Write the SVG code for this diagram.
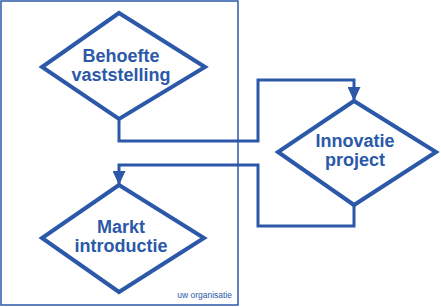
<svg xmlns="http://www.w3.org/2000/svg" width="441" height="307" viewBox="0 0 441 307">
<style>
.d{fill:#fff;stroke:#2B58A8;stroke-width:4;stroke-linejoin:miter}
.c{fill:none;stroke:#2B58A8;stroke-width:3}
.t{font-family:"Liberation Sans",Arial,sans-serif;font-weight:bold;font-size:18px;fill:#2B58A8;text-anchor:middle}
.s{font-family:"Liberation Sans",Arial,sans-serif;font-size:8.5px;fill:#2B58A8;text-anchor:end}
</style>
<defs>
<marker id="a2" markerUnits="userSpaceOnUse" markerWidth="14" markerHeight="13" refX="14" refY="6.5" orient="auto" viewBox="0 0 14 13">
<path d="M0,0 L14,6.5 L0,13 Z" fill="#2B58A8"/>
</marker>
</defs>
<g id="organisatie">
<rect x="1" y="1" width="237" height="304" fill="none" stroke="#2B58A8" stroke-width="1.5"/>
<text class="s" x="232" y="298">uw organisatie</text>
</g>
<g id="connectors">
<path class="c" d="M119,118 V141 H258 V80 H354 V101" marker-end="url(#a2)"/>
<path class="c" d="M354,205 V226 H258 V165 H119 V185" marker-end="url(#a2)"/>
</g>
<g id="behoefte">
<polygon class="d" points="119,13 205,67 119,119 42,67"/>
<text class="t" x="121" y="62">Behoefte</text>
<text class="t" x="121" y="81">vaststelling</text>
</g>
<g id="innovatie">
<polygon class="d" points="354,101 436,152 354,205 278,152"/>
<text class="t" x="355" y="147">Innovatie</text>
<text class="t" x="355" y="166">project</text>
</g>
<g id="markt">
<polygon class="d" points="119,185 204,238 119,292 42,238"/>
<text class="t" x="121" y="233">Markt</text>
<text class="t" x="121" y="252">introductie</text>
</g>
</svg>
